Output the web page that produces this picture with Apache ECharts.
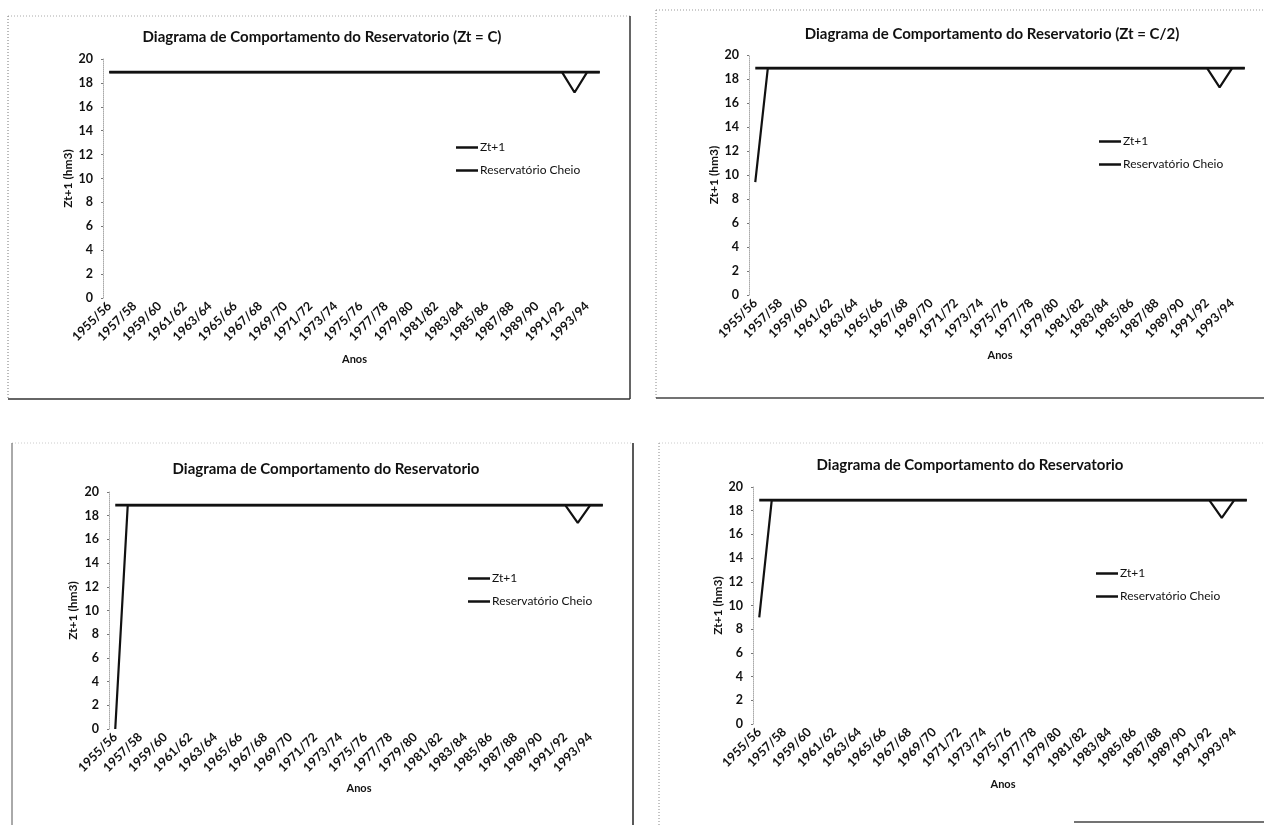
<!DOCTYPE html>
<html>
<head>
<meta charset="utf-8">
<title>Diagrama de Comportamento do Reservatorio</title>
<script src="https://cdn.jsdelivr.net/npm/echarts@6/dist/echarts.min.js"></script>
<style>
  html, body { margin: 0; padding: 0; background: #fff; }
  #chart { width: 1264px; height: 825px; }
</style>
</head>
<body>
<div id="chart"></div>
<script>
// Hydrological years on the category axis
const anos = [
  '1955/56','1956/57','1957/58','1958/59','1959/60','1960/61','1961/62','1962/63',
  '1963/64','1964/65','1965/66','1966/67','1967/68','1968/69','1969/70','1970/71',
  '1971/72','1972/73','1973/74','1974/75','1975/76','1976/77','1977/78','1978/79',
  '1979/80','1980/81','1981/82','1982/83','1983/84','1984/85','1985/86','1986/87',
  '1987/88','1988/89','1989/90','1990/91','1991/92','1992/93','1993/94','1994/95'
];

// Stored volume at the end of each year (hm3), one run per initial condition
const ztC = [
  18.9, 18.9, 18.9, 18.9, 18.9, 18.9, 18.9, 18.9, 18.9, 18.9,
  18.9, 18.9, 18.9, 18.9, 18.9, 18.9, 18.9, 18.9, 18.9, 18.9,
  18.9, 18.9, 18.9, 18.9, 18.9, 18.9, 18.9, 18.9, 18.9, 18.9,
  18.9, 18.9, 18.9, 18.9, 18.9, 18.9, 18.9, 17.2, 18.9, 18.9
];
const ztMeio = [
  9.4, 18.9, 18.9, 18.9, 18.9, 18.9, 18.9, 18.9, 18.9, 18.9,
  18.9, 18.9, 18.9, 18.9, 18.9, 18.9, 18.9, 18.9, 18.9, 18.9,
  18.9, 18.9, 18.9, 18.9, 18.9, 18.9, 18.9, 18.9, 18.9, 18.9,
  18.9, 18.9, 18.9, 18.9, 18.9, 18.9, 18.9, 17.3, 18.9, 18.9
];
const ztVazio = [
  0, 18.9, 18.9, 18.9, 18.9, 18.9, 18.9, 18.9, 18.9, 18.9,
  18.9, 18.9, 18.9, 18.9, 18.9, 18.9, 18.9, 18.9, 18.9, 18.9,
  18.9, 18.9, 18.9, 18.9, 18.9, 18.9, 18.9, 18.9, 18.9, 18.9,
  18.9, 18.9, 18.9, 18.9, 18.9, 18.9, 18.9, 17.4, 18.9, 18.9
];
const ztOutro = [
  9.0, 18.9, 18.9, 18.9, 18.9, 18.9, 18.9, 18.9, 18.9, 18.9,
  18.9, 18.9, 18.9, 18.9, 18.9, 18.9, 18.9, 18.9, 18.9, 18.9,
  18.9, 18.9, 18.9, 18.9, 18.9, 18.9, 18.9, 18.9, 18.9, 18.9,
  18.9, 18.9, 18.9, 18.9, 18.9, 18.9, 18.9, 17.4, 18.9, 18.9
];

// Reservoir capacity (full reservoir), hm3
const cheio = [
  18.9, 18.9, 18.9, 18.9, 18.9, 18.9, 18.9, 18.9, 18.9, 18.9,
  18.9, 18.9, 18.9, 18.9, 18.9, 18.9, 18.9, 18.9, 18.9, 18.9,
  18.9, 18.9, 18.9, 18.9, 18.9, 18.9, 18.9, 18.9, 18.9, 18.9,
  18.9, 18.9, 18.9, 18.9, 18.9, 18.9, 18.9, 18.9, 18.9, 18.9
];

const titulos = [
  'Diagrama de Comportamento do Reservatorio (Zt = C)',
  'Diagrama de Comportamento do Reservatorio (Zt = C/2)',
  'Diagrama de Comportamento do Reservatorio',
  'Diagrama de Comportamento do Reservatorio'
];
const seriesZt = [ztC, ztMeio, ztVazio, ztOutro];
const nomeZt = 'Zt+1';
const nomeCheio = 'Reservatório Cheio';
const nomeEixoY = 'Zt+1 (hm3)';
const nomeEixoX = 'Anos';
const yMin = 0, yMax = 20, yStep = 2;

// Panel layout: plot area, title centre, legend anchor, axis-name gaps
const paineis = [
  { grid: { left: 103, top: 59, width: 503, height: 239 }, title: [317, 35], legend: [451, 135], gapY: 28, gapX: 56 },
  { grid: { left: 749, top: 55, width: 502, height: 240 }, title: [987, 32], legend: [1094, 129], gapY: 25, gapX: 55 },
  { grid: { left: 109, top: 492, width: 500, height: 237 }, title: [321, 467], legend: [463, 566], gapY: 30, gapX: 54 },
  { grid: { left: 753, top: 487, width: 500, height: 237 }, title: [965, 463], legend: [1091, 561], gapY: 29, gapX: 55 }
];

const FONT = 'Lato, "Open Sans", sans-serif';
const INK = '#111';

const grid = [], xAxis = [], yAxis = [], title = [], legend = [], series = [];

paineis.forEach((p, i) => {
  grid.push(Object.assign({ containLabel: false }, p.grid));
  title.push({
    text: titulos[i],
    left: p.title[0],
    top: p.title[1] - 10,
    textAlign: 'center',
    textStyle: { fontFamily: FONT, fontSize: 15, fontWeight: 'bold', color: INK }
  });
  legend.push({
    data: [nomeZt, nomeCheio],
    orient: 'vertical',
    left: p.legend[0],
    top: p.legend[1],
    itemWidth: 22,
    itemHeight: 2.5,
    itemGap: 8,
    icon: 'rect',
    selectedMode: false,
    textStyle: { fontFamily: FONT, fontSize: 12, color: INK, lineHeight: 15, padding: [0, 0, 0, -3] }
  });
  xAxis.push({
    type: 'category',
    gridIndex: i,
    data: anos,
    boundaryGap: true,
    name: nomeEixoX,
    nameLocation: 'middle',
    nameGap: p.gapX,
    nameTextStyle: { fontFamily: FONT, fontSize: 11, fontWeight: 'bold', color: INK },
    axisLine: { show: false },
    axisTick: { show: false },
    axisLabel: {
      rotate: 45, interval: 1, margin: 6,
      fontFamily: FONT, fontSize: 12.5, fontWeight: 'bold', color: INK
    },
    splitLine: { show: false }
  });
  yAxis.push({
    type: 'value',
    gridIndex: i,
    min: yMin, max: yMax, interval: yStep,
    name: nomeEixoY,
    nameLocation: 'middle',
    nameGap: p.gapY,
    nameTextStyle: { fontFamily: FONT, fontSize: 12, fontWeight: 'bold', color: INK },
    axisLine: { show: true, lineStyle: { color: '#aaa', width: 1, type: 'dotted' } },
    axisTick: { show: true, length: 2, lineStyle: { color: '#777' } },
    axisLabel: { margin: 10, fontFamily: FONT, fontSize: 12.5, fontWeight: 'bold', color: INK },
    splitLine: { show: false }
  });
  series.push({
    name: nomeZt, type: 'line', xAxisIndex: i, yAxisIndex: i,
    data: seriesZt[i], symbol: 'none', color: INK,
    lineStyle: { color: INK, width: 2.2 }, z: 3
  });
  series.push({
    name: nomeCheio, type: 'line', xAxisIndex: i, yAxisIndex: i,
    data: cheio, symbol: 'none', color: INK,
    lineStyle: { color: INK, width: 2.8 }, z: 2
  });
});

// Frame lines around each panel
function linha(x1, y1, x2, y2, cor, tipo, largura) {
  return {
    type: 'line', silent: true,
    shape: { x1, y1, x2, y2 },
    style: { stroke: cor, lineWidth: largura || 1, lineDash: tipo === 'dotted' ? [1, 2] : null }
  };
}
const molduras = [
  linha(8, 16, 630, 16, '#aaa', 'dotted'),
  linha(8, 16, 8, 399, '#777', 'dotted'),
  linha(630, 16, 630, 399, '#333', 'solid', 1.5),
  linha(8, 399, 630, 399, '#333', 'solid', 1.5),
  linha(656, 10, 1264, 10, '#999', 'dotted'),
  linha(656, 10, 656, 398, '#888', 'dotted'),
  linha(656, 398, 1264, 398, '#444', 'solid', 1.5),
  linha(12, 443, 633, 443, '#ccc', 'dotted'),
  linha(12, 443, 12, 825, '#555', 'solid', 1),
  linha(633, 443, 633, 825, '#222', 'solid', 1.5),
  linha(659, 443, 1264, 443, '#ccc', 'dotted'),
  linha(659, 443, 659, 825, '#888', 'dotted'),
  linha(1074, 822, 1264, 822, '#444', 'solid', 1.5)
];

const chart = echarts.init(document.getElementById('chart'), null, { renderer: 'canvas' });
chart.setOption({
  animation: false,
  backgroundColor: '#fff',
  title, legend, grid, xAxis, yAxis, series,
  graphic: molduras
});
</script>
</body>
</html>
